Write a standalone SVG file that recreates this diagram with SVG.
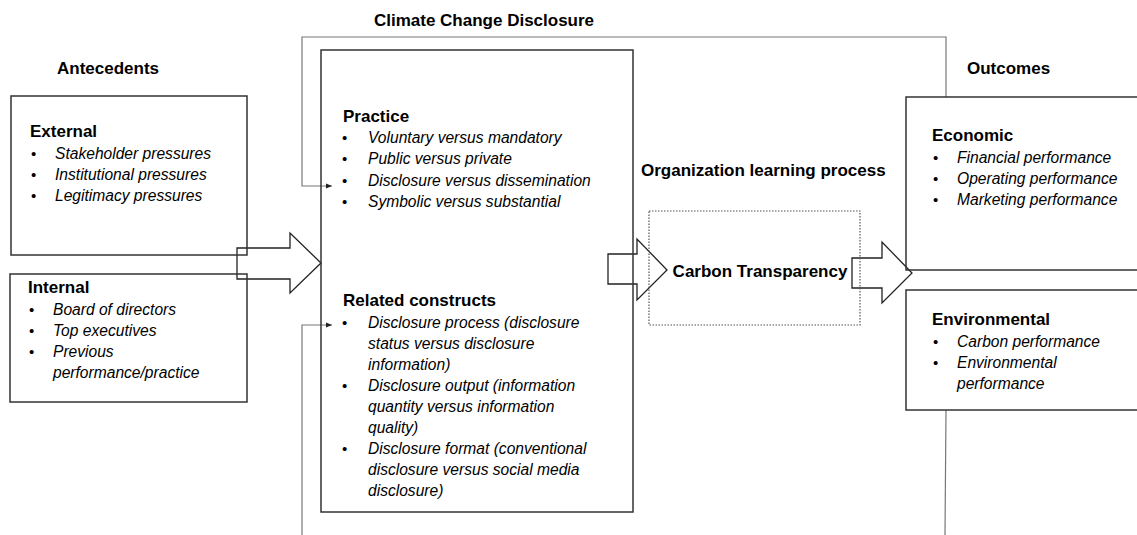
<svg xmlns="http://www.w3.org/2000/svg" width="1137" height="535" viewBox="0 0 1137 535">
<defs>
<style>
.box{fill:none;stroke:#333;stroke-width:1.5}
.thin{fill:none;stroke:#777;stroke-width:1.2}
.big{fill:#fff;stroke:#222;stroke-width:1.3;stroke-linejoin:miter}
.dot{fill:none;stroke:#555;stroke-width:1.2;stroke-dasharray:1.5 1.5}
text{font-family:"Liberation Sans",Arial,sans-serif;fill:#000}
.h{font-size:17px;font-weight:bold}
.i{font-size:15.6px;font-style:italic}
.b{font-size:15px}
</style>
<marker id="ah" viewBox="0 0 10 10" refX="10" refY="5" markerWidth="6" markerHeight="6" orient="auto" markerUnits="userSpaceOnUse">
<path d="M0,1 L10,5 L0,9 z" fill="#222"/>
</marker>
</defs>
<rect width="1137" height="535" fill="#fff"/>

<g id="connectors">
<polyline class="thin" points="302,535 302,325 332,325" marker-end="url(#ah)"/>
<polyline class="thin" points="946,97 946,37 302,37 302,186 332,186" marker-end="url(#ah)"/>
<line class="thin" x1="946" y1="410" x2="945" y2="535"/>
<path class="big" d="M237,248 L290,248 L290,233 L321,263 L290,293 L290,279 L237,279 Z"/>
<path class="big" d="M608,254 L637,254 L637,239 L667,270 L637,300 L637,284 L608,284 Z"/>
<path class="big" d="M852,258 L882,258 L882,242 L912,273 L882,303 L882,288 L852,288 Z"/>
</g>

<text class="h" x="57" y="74">Antecedents</text>
<text class="h" x="484" y="26" text-anchor="middle">Climate Change Disclosure</text>
<text class="h" x="967" y="74">Outcomes</text>

<g id="external">
<rect class="box" x="11" y="96" width="236" height="159"/>
<text class="h" x="30" y="137">External</text>
<text class="b" x="31" y="159">•</text><text class="i" x="55" y="159">Stakeholder pressures</text>
<text class="b" x="31" y="180">•</text><text class="i" x="55" y="180">Institutional pressures</text>
<text class="b" x="31" y="201">•</text><text class="i" x="55" y="201">Legitimacy pressures</text>
</g>

<g id="internal">
<rect class="box" x="10" y="274" width="237" height="128"/>
<text class="h" x="28" y="293">Internal</text>
<text class="b" x="29" y="315">•</text><text class="i" x="53" y="315">Board of directors</text>
<text class="b" x="29" y="336">•</text><text class="i" x="53" y="336">Top executives</text>
<text class="b" x="29" y="357">•</text><text class="i" x="53" y="357">Previous</text>
<text class="i" x="53" y="378">performance/practice</text>
</g>

<g id="disclosure">
<rect class="box" x="321" y="50" width="312" height="462"/>
<text class="h" x="343" y="122">Practice</text>
<text class="b" x="342" y="143">•</text><text class="i" x="368" y="143">Voluntary versus mandatory</text>
<text class="b" x="342" y="164">•</text><text class="i" x="368" y="164">Public versus private</text>
<text class="b" x="342" y="186">•</text><text class="i" x="368" y="186">Disclosure versus dissemination</text>
<text class="b" x="342" y="207">•</text><text class="i" x="368" y="207">Symbolic versus substantial</text>
<text class="h" x="343" y="306">Related constructs</text>
<text class="b" x="342" y="328">•</text><text class="i" x="368" y="328">Disclosure process (disclosure</text>
<text class="i" x="368" y="349">status versus disclosure</text>
<text class="i" x="368" y="370">information)</text>
<text class="b" x="342" y="391">•</text><text class="i" x="368" y="391">Disclosure output (information</text>
<text class="i" x="368" y="412">quantity versus information</text>
<text class="i" x="368" y="433">quality)</text>
<text class="b" x="342" y="454">•</text><text class="i" x="368" y="454">Disclosure format (conventional</text>
<text class="i" x="368" y="475">disclosure versus social media</text>
<text class="i" x="368" y="496">disclosure)</text>
</g>

<g id="learning">
<text class="h" x="641" y="176">Organization learning process</text>
<rect class="dot" x="649" y="211" width="211" height="114"/>
<text class="h" x="760" y="277" text-anchor="middle">Carbon Transparency</text>
</g>

<g id="economic">
<rect class="box" x="906" y="97" width="240" height="173"/>
<text class="h" x="932" y="141">Economic</text>
<text class="b" x="933" y="163">•</text><text class="i" x="957" y="163">Financial performance</text>
<text class="b" x="933" y="184">•</text><text class="i" x="957" y="184">Operating performance</text>
<text class="b" x="933" y="205">•</text><text class="i" x="957" y="205">Marketing performance</text>
</g>

<g id="environmental">
<rect class="box" x="906" y="290" width="240" height="120"/>
<text class="h" x="932" y="325">Environmental</text>
<text class="b" x="933" y="347">•</text><text class="i" x="957" y="347">Carbon performance</text>
<text class="b" x="933" y="368">•</text><text class="i" x="957" y="368">Environmental</text>
<text class="i" x="957" y="389">performance</text>
</g>
</svg>
